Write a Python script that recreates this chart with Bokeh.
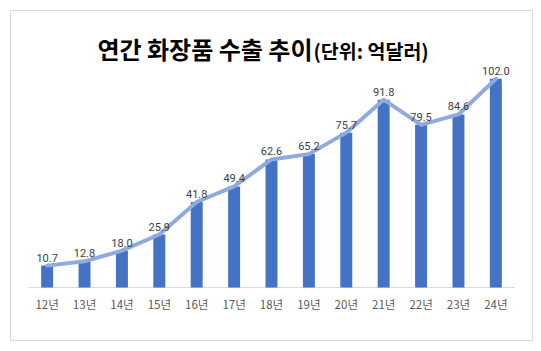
from bokeh.plotting import figure
from bokeh.models import FactorRange, Range1d, Label, ColumnDataSource
from bokeh.core.properties import value
from bokeh.embed import file_html
from bokeh.resources import INLINE

years = ["12년", "13년", "14년", "15년", "16년", "17년", "18년", "19년", "20년", "21년", "22년", "23년", "24년"]
exports = [10.7, 12.8, 18.0, 25.9, 41.8, 49.4, 62.6, 65.2, 75.7, 91.8, 79.5, 84.6, 102.0]
value_labels = [f"{v:.1f}" for v in exports]
title_main = "연간 화장품 수출 추이"
title_unit = "(단위: 억달러)"

src = ColumnDataSource(dict(x=years, y=exports, lab=value_labels, zero=[0] * len(years)))

p = figure(width=541, height=351, output_backend="svg", toolbar_location=None,
           x_range=FactorRange(*years, range_padding=0.48, range_padding_units="absolute"),
           y_range=Range1d(-25.9, 135.4),
           min_border_left=10, min_border_right=9, min_border_top=10, min_border_bottom=11)
p.xaxis.visible = False
p.yaxis.visible = False
p.xgrid.visible = False
p.ygrid.visible = False
p.outline_line_color = "#d9d9d9"
p.outline_line_width = 1
p.background_fill_color = "white"
p.border_fill_color = "white"

# baseline axis line
p.segment(x0=[0], y0=[0], x1=[13], y1=[0], line_color="#d9d9d9", line_width=1)

p.vbar(x="x", top="y", width=0.32, source=src, fill_color="#4472c4", line_color=None)
p.line(x="x", y="y", source=src, line_color="#8faadc", line_width=4, line_join="round", line_cap="round")

p.text(x="x", y="y", text="lab", source=src, text_align="center", text_baseline="bottom",
       y_offset=-4, text_font=value("Roboto"), text_font_size="11px", text_color="#404040")

p.text(x="x", y="zero", text="x", source=src, text_align="center", text_baseline="middle",
       y_offset=16, text_font=value("Noto Sans CJK KR"), text_font_size="11.5px", text_color="#595959")

p.add_layout(Label(x=302, y=292, x_units="screen", y_units="screen", text=title_main,
                   text_align="right", text_baseline="middle", text_font="Noto Sans CJK KR",
                   text_font_style="bold", text_font_size="24px", text_color="#000000"))
p.add_layout(Label(x=303, y=290, x_units="screen", y_units="screen", text=title_unit,
                   text_align="left", text_baseline="middle", text_font="Noto Sans CJK KR",
                   text_font_style="bold", text_font_size="19.5px", text_color="#000000"))

open("out.html", "w").write(file_html(p, INLINE))
